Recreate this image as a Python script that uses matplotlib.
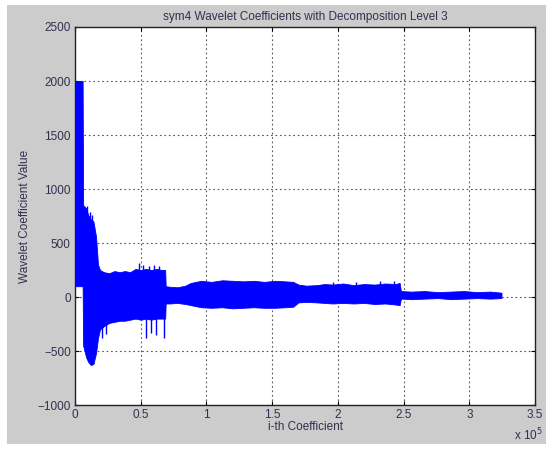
import matplotlib
matplotlib.use('Agg')
import matplotlib.pyplot as plt
import matplotlib.patches as patches
from matplotlib.ticker import FuncFormatter

# envelope of the level-3 sym4 coefficients
env_x = [0, 5800, 6200, 8500, 10000, 12000, 14000, 16000, 17500, 19000,
         22000, 26000, 30000, 34000, 38000, 42000, 46000, 50000, 54000,
         58000, 62000, 66000, 68600, 69000, 72000, 78000, 84000, 88000,
         96000, 104000, 112000, 120000, 128000, 136000, 144000, 152000,
         160000, 166000, 170000, 176000, 184000, 190000, 196000, 204000,
         212000, 220000, 228000, 236000, 244000, 247000, 248000, 256000,
         266000, 276000, 286000, 296000, 306000, 316000, 324500]
env_hi = [2000, 2000, 850, 820, 760, 720, 700, 560, 300, 250,
          230, 220, 240, 230, 240, 230, 260, 250, 260,
          250, 260, 250, 250, 100, 95, 90, 105, 130,
          150, 140, 155, 150, 145, 150, 140, 150,
          145, 140, 115, 105, 110, 120, 115, 125,
          110, 120, 115, 125, 120, 130, 55, 50,
          55, 45, 50, 55, 45, 50, 40]
env_lo = [100, 100, -450, -560, -600, -630, -620, -520, -380, -300,
          -270, -240, -230, -220, -220, -210, -200, -210, -200,
          -210, -200, -200, -200, -60, -60, -55, -65, -75,
          -95, -100, -95, -105, -100, -95, -100, -100,
          -95, -90, -50, -45, -50, -55, -60, -55,
          -60, -55, -65, -60, -70, -75, -15, -20,
          -15, -10, -20, -15, -10, -15, -10]

# isolated spikes sticking out of the envelope
spike_x = [9000, 11500, 13000, 20500, 23500, 48600, 52000, 56000, 60000,
           64000, 54000, 58000, 62000, 68000, 196000, 214000, 232000, 243000]
spike_y = [840, 790, 760, -380, -340, 315, 300, 290, 295,
           290, -380, -330, -350, -380, 140, 135, 145, 150]

x_ticks = [0, 50000, 100000, 150000, 200000, 250000, 300000, 350000]
y_ticks = [-1000, -500, 0, 500, 1000, 1500, 2000, 2500]

fig = plt.figure(figsize=(5.46, 4.51), dpi=100, facecolor='white')
fig.patches.append(patches.Rectangle((7 / 546, 7 / 451), 539 / 546, 439 / 451,
                                     transform=fig.transFigure, facecolor='#cccccc',
                                     edgecolor='none', zorder=-10))

ax = fig.add_axes([75 / 546, 46 / 451, 460 / 546, 378 / 451])
ax.set_facecolor('white')

ax.fill_between(env_x, env_lo, env_hi, color='#0000ff', linewidth=0.6,
                edgecolor='#0000ff', zorder=3)
ax.vlines(spike_x, 0, spike_y, color='#0000ff', linewidth=1.0, zorder=3)

ax.set_xlim(0, 350000)
ax.set_ylim(-1000, 2500)
ax.set_xticks(x_ticks)
ax.set_yticks(y_ticks)
ax.xaxis.set_major_formatter(FuncFormatter(lambda v, p: f'{v / 1e5:g}'))

ax.grid(True, color='#555555', linestyle=(0, (1.5, 2.5)), linewidth=0.8)
ax.set_axisbelow(True)
ax.tick_params(direction='in', length=3, top=True, right=True,
               labelsize=8.5, labelcolor='#303050', pad=3)
for s in ax.spines.values():
    s.set_color('#222222')
    s.set_linewidth(1.0)

fnt = 'Liberation Sans'
for lab in ax.get_xticklabels() + ax.get_yticklabels():
    lab.set_family(fnt)

ax.set_title('sym4 Wavelet Coefficients with Decomposition Level 3',
             fontsize=8.5, family=fnt, color='#303050', pad=5)
ax.set_xlabel('i-th Coefficient', fontsize=8.5, family=fnt, color='#303050', labelpad=0)
ax.set_ylabel('Wavelet Coefficient Value', fontsize=8.5, family=fnt,
              color='#303050', labelpad=5)
fig.text(543 / 546, 1 - 440 / 451, r'x 10$^5$', fontsize=8.5, family=fnt,
         color='#303050', ha='right', va='baseline')

fig.savefig('out.png', dpi=100, facecolor=fig.get_facecolor())
